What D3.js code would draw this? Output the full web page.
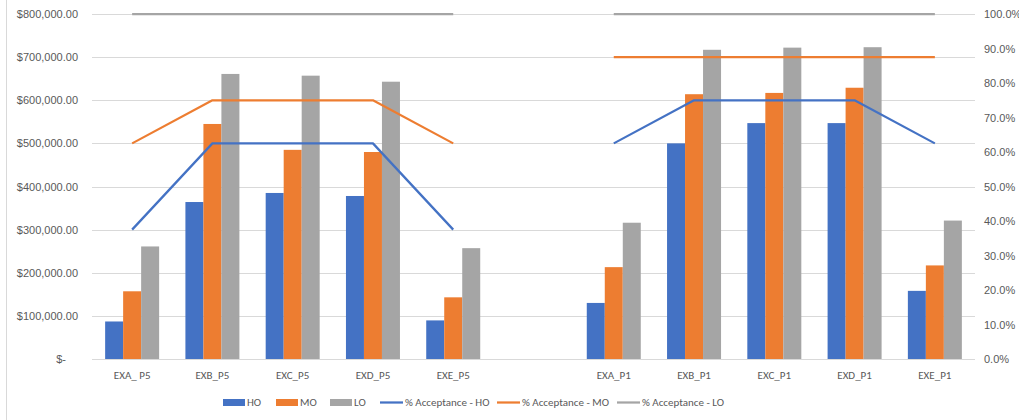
<!DOCTYPE html>
<html>
<head>
<meta charset="utf-8">
<script src="https://cdn.jsdelivr.net/npm/d3@7/dist/d3.min.js"></script>
<style>
  html, body { margin: 0; padding: 0; background: #fff; }
  svg { display: block; font-family: Calibri, Carlito, Lato, "Noto Sans", sans-serif; }
</style>
</head>
<body>
<svg id="chart" width="1019" height="420"></svg>
<script>
// Categories: P5 group, an empty slot, then P1 group
const categories = ["EXA_ P5", "EXB_P5", "EXC_P5", "EXD_P5", "EXE_P5", "",
                    "EXA_P1", "EXB_P1", "EXC_P1", "EXD_P1", "EXE_P1"];

// Dollar values per offer level
const hoValues = [87000, 364000, 385000, 378000, 89500, null, 130000, 500000, 547000, 547000, 158000];
const moValues = [157000, 545000, 485000, 480000, 143000, null, 213000, 614000, 617000, 629000, 217000];
const loValues = [261000, 661000, 657000, 643000, 257000, null, 316000, 717000, 722000, 723000, 321000];

// Acceptance rates (right axis)
const accHO = [0.375, 0.625, 0.625, 0.625, 0.375, null, 0.625, 0.75, 0.75, 0.75, 0.625];
const accMO = [0.625, 0.75, 0.75, 0.75, 0.625, null, 0.875, 0.875, 0.875, 0.875, 0.875];
const accLO = [1, 1, 1, 1, 1, null, 1, 1, 1, 1, 1];

const leftTicks = [0, 100000, 200000, 300000, 400000, 500000, 600000, 700000, 800000];
const rightTicks = [0, 0.1, 0.2, 0.3, 0.4, 0.5, 0.6, 0.7, 0.8, 0.9, 1.0];

const seriesNames = ["HO", "MO", "LO"];
const lineNames = ["% Acceptance - HO", "% Acceptance - MO", "% Acceptance - LO"];
const colors = { HO: "#4472C4", MO: "#ED7D31", LO: "#A5A5A5" };

const svg = d3.select("#chart");
const plot = { left: 92, right: 975, top: 14, bottom: 359 };
const textColor = "#595959";

// chart area left border
svg.append("line").attr("x1", 6.5).attr("x2", 6.5).attr("y1", 0).attr("y2", 420)
  .attr("stroke", "#D9D9D9").attr("stroke-width", 1);

const x = d3.scaleBand().domain(d3.range(categories.length))
  .range([plot.left, plot.right]).paddingInner(0).paddingOuter(0);
const x1 = d3.scaleBand().domain(seriesNames).range([0, x.bandwidth()])
  .paddingInner(0).paddingOuter(0.73);
const yL = d3.scaleLinear().domain([0, 800000]).range([plot.bottom, plot.top]);
const yR = d3.scaleLinear().domain([0, 1]).range([plot.bottom, plot.top]);

// gridlines
svg.append("g").selectAll("line").data(leftTicks).join("line")
  .attr("x1", plot.left).attr("x2", plot.right)
  .attr("y1", d => Math.round(yL(d)) + 0.5).attr("y2", d => Math.round(yL(d)) + 0.5)
  .attr("stroke", "#D9D9D9").attr("stroke-width", 1);

// left axis
const fmtMoney = d => d === 0 ? "$-" : "$" + d3.format(",.2f")(d);
const leftAxis = d3.axisLeft(yL).tickValues(leftTicks).tickFormat(fmtMoney).tickSize(0).tickPadding(0);
const gL = svg.append("g").attr("transform", `translate(78,0)`).call(leftAxis);
gL.select(".domain").remove();
gL.selectAll("text").attr("fill", textColor).style("font-size", "11px")
  .attr("x", d => d === 0 ? -12 : 0);

// right axis
const rightAxis = d3.axisRight(yR).tickValues(rightTicks).tickFormat(d3.format(".1%")).tickSize(0).tickPadding(0);
const gR = svg.append("g").attr("transform", `translate(984,0)`).call(rightAxis);
gR.select(".domain").remove();
gR.selectAll("text").attr("fill", textColor).style("font-size", "11px");

// bars
const barData = [];
categories.forEach((c, i) => {
  [["HO", hoValues], ["MO", moValues], ["LO", loValues]].forEach(([s, arr]) => {
    if (arr[i] != null) barData.push({ i, s, v: arr[i] });
  });
});
svg.append("g").selectAll("rect").data(barData).join("rect")
  .attr("x", d => x(d.i) + x1(d.s))
  .attr("width", x1.bandwidth())
  .attr("y", d => yL(d.v))
  .attr("height", d => yL(0) - yL(d.v))
  .attr("fill", d => colors[d.s]);

// acceptance lines
const line = d3.line().defined(d => d.v != null)
  .x(d => x(d.i) + x.bandwidth() / 2).y(d => yR(d.v));
[["HO", accHO], ["MO", accMO], ["LO", accLO]].forEach(([s, arr]) => {
  svg.append("path").datum(arr.map((v, i) => ({ i, v })))
    .attr("d", line).attr("fill", "none")
    .attr("stroke", colors[s]).attr("stroke-width", 2.25)
    .attr("stroke-linejoin", "round");
});

// x labels
svg.append("g").selectAll("text").data(categories.map((c, i) => ({ c, i }))).join("text")
  .attr("x", d => x(d.i) + x.bandwidth() / 2).attr("y", 379)
  .attr("text-anchor", "middle").attr("fill", textColor).style("font-size", "11px")
  .text(d => d.c);

// legend
const legend = svg.append("g");
const barLegendX = [223, 276, 330];
seriesNames.forEach((s, k) => {
  legend.append("rect").attr("x", barLegendX[k]).attr("y", 399).attr("width", 22).attr("height", 7)
    .attr("fill", colors[s]);
  legend.append("text").attr("x", barLegendX[k] + 24).attr("y", 406)
    .attr("fill", textColor).style("font-size", "11px").text(s);
});
const lineLegendX = [380, 497, 617];
seriesNames.forEach((s, k) => {
  legend.append("line").attr("x1", lineLegendX[k]).attr("x2", lineLegendX[k] + 23)
    .attr("y1", 402.5).attr("y2", 402.5).attr("stroke", colors[s]).attr("stroke-width", 2.25);
  legend.append("text").attr("x", lineLegendX[k] + 25).attr("y", 406)
    .attr("fill", textColor).style("font-size", "11px").text(lineNames[k]);
});
</script>
</body>
</html>
